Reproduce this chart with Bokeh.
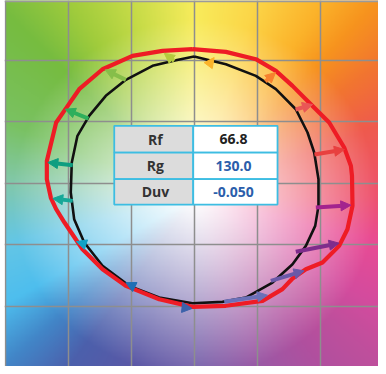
import numpy as np
from bokeh.plotting import figure
from bokeh.models import Arrow, NormalHead, Span, Range1d
from bokeh.core.properties import value
from bokeh.embed import file_html
from bokeh.resources import INLINE

# ---------------- data ----------------
bin_colors = ["#E8403F", "#E95656", "#F7812E", "#FBB32A", "#B5CB3E", "#86BE4A",
              "#2EAF5C", "#0E9E80", "#16A898", "#12A2C6", "#1E6FB5", "#3B62AA",
              "#6B70B8", "#6A58A8", "#7F2C8C", "#A3238E"]
# arrow starts (reference) and ends (test), hue bins 1..16
ref_x = [0.952, 0.802, 0.563, 0.117, -0.161, -0.545, -0.841, -0.966, -0.966, -0.865, -0.515, -0.095, 0.236, 0.606, 0.804, 0.963]
ref_y = [0.232, 0.598, 0.825, 0.966, 0.993, 0.839, 0.524, 0.145, -0.145, -0.500, -0.825, -1.012, -0.966, -0.795, -0.559, -0.199]
test_x = [1.190, 0.937, 0.643, 0.156, -0.240, -0.709, -1.026, -1.164, -1.125, -0.937, -0.545, -0.020, 0.579, 0.870, 1.148, 1.241]
test_y = [0.272, 0.638, 0.898, 1.020, 1.055, 0.920, 0.600, 0.167, -0.126, -0.476, -0.810, -1.020, -0.912, -0.714, -0.489, -0.180]

# test source gamut (red)
test_curve_x = [-0.016, 0.249, 0.487, 0.646, 0.778, 0.937, 1.069, 1.188, 1.241, 1.250, 1.254, 1.214,
                1.148, 1.016, 0.884, 0.778, 0.698, 0.540, 0.249, -0.016, -0.280, -0.545, -0.730,
                -0.889, -1.032, -1.098, -1.140, -1.172, -1.172, -1.098, -1.034, -0.915, -0.730,
                -0.492, -0.254]
test_curve_y = [1.088, 1.066, 1.007, 0.912, 0.790, 0.627, 0.492, 0.289, 0.140, 0.059, -0.186, -0.376,
                -0.511, -0.646, -0.701, -0.776, -0.863, -0.958, -0.998, -1.007, -0.945, -0.836,
                -0.701, -0.538, -0.321, -0.213, -0.120, 0.031, 0.180, 0.492, 0.587, 0.763, 0.925,
                1.034, 1.075]

# reference gamut (black)
ref_curve_x = [-0.003, 0.249, 0.487, 0.646, 0.804, 0.897, 0.950, 0.984, 0.984, 0.958, 0.884, 0.778,
               0.619, 0.407, 0.222, -0.016, -0.280, -0.518, -0.730, -0.875, -0.955, -0.982,
               -0.974, -0.929, -0.836, -0.704, -0.545, -0.333, -0.148]
ref_curve_y = [1.028, 0.966, 0.871, 0.763, 0.600, 0.411, 0.248, 0.031, -0.186, -0.348, -0.511, -0.660,
               -0.809, -0.931, -0.966, -0.977, -0.931, -0.836, -0.673, -0.484, -0.294, -0.077,
               0.167, 0.384, 0.546, 0.709, 0.839, 0.953, 0.998]

table_labels = ["Rf", "Rg", "Duv"]
table_values = ["66.8", "130.0", "-0.050"]
grid_ticks = [-1.5, -1.0, -0.5, 0.0, 0.5, 1.0, 1.5]

# ---------------- style / layout ----------------
X0 = -1.5 - 1 / 126
Y1 = 1.484
p = figure(width=378, height=366, output_backend="svg", toolbar_location=None,
           x_range=Range1d(X0, X0 + 374 / 126), y_range=Range1d(Y1 - 366 / 123, Y1),
           min_border_left=4, min_border_right=0, min_border_top=0, min_border_bottom=0)
p.xaxis.visible = False
p.yaxis.visible = False
p.outline_line_color = None
p.background_fill_color = "white"
p.border_fill_color = "white"

# background hue image (decorative)
anchor_ang = [0, 22, 37, 48, 57, 73, 90, 107, 122, 135, 158, 175, 194, 210, 222, 234, 250,
              270, 290, 306, 318, 329, 346, 360]
anchor_rgb = [(238, 84, 112), (239, 90, 78), (242, 118, 48), (247, 148, 30), (251, 178, 42),
              (252, 214, 72), (248, 236, 92), (200, 220, 72), (160, 204, 60), (118, 188, 64),
              (122, 194, 100), (130, 200, 170), (100, 198, 230), (78, 190, 238), (66, 134, 200),
              (76, 96, 172), (90, 88, 166), (116, 97, 170), (154, 90, 166), (176, 80, 159),
              (192, 79, 156), (212, 76, 158), (233, 75, 148), (238, 84, 112)]
N = 300
g = np.linspace(-1.5, 1.5, N)
GX, GY = np.meshgrid(g, g)
ang = np.degrees(np.arctan2(GY + 0.12, GX)) % 360
rad = np.hypot(GX, GY + 0.12)
t = np.clip(rad / 1.45, 0, 1) ** 1.15
img = np.empty((N, N), dtype=np.uint32)
view = img.view(dtype=np.uint8).reshape((N, N, 4))
for ch in range(3):
    hue = np.interp(ang, anchor_ang, [c[ch] for c in anchor_rgb])
    view[:, :, ch] = np.clip(255 * (1 - t) + hue * t, 0, 255).astype(np.uint8)
view[:, :, 3] = 255
p.image_rgba(image=[img], x=-1.5, y=-1.5, dw=3, dh=3, level="image")

# grid
p.xgrid.ticker = grid_ticks
p.ygrid.ticker = grid_ticks
for gr in (p.xgrid, p.ygrid):
    gr.grid_line_color = "#8E8E8E"
    gr.grid_line_width = 1.5
p.add_layout(Span(location=Y1 - 0.006, dimension="width", line_color="#9A9A9A", line_width=2))

# curves
p.line(ref_curve_x + ref_curve_x[:1], ref_curve_y + ref_curve_y[:1], line_color="#111111",
       line_width=2.6, line_join="round")
p.line(test_curve_x + test_curve_x[:1], test_curve_y + test_curve_y[:1], line_color="#EE1C25",
       line_width=4.2, line_join="round")

# arrows
for xs, ys, xe, ye, c in zip(ref_x, ref_y, test_x, test_y, bin_colors):
    p.add_layout(Arrow(end=NormalHead(size=10, fill_color=c, line_color=c, line_width=1),
                       x_start=xs, y_start=ys, x_end=xe, y_end=ye,
                       line_color=c, line_width=4))

# table
tbl_l, tbl_m, tbl_r = -0.637, -0.010, 0.659
row_edges = [0.465, 0.248, 0.031, -0.175]
tops = row_edges[:-1]
bots = row_edges[1:]
n = len(table_labels)
p.quad(left=[tbl_l] * n, right=[tbl_m] * n, top=tops, bottom=bots,
       fill_color="#DCDCDC", line_color="#3DBDE2", line_width=1.8)
p.quad(left=[tbl_m] * n, right=[tbl_r] * n, top=tops, bottom=bots,
       fill_color="#FFFFFF", line_color="#3DBDE2", line_width=1.8)
mids = [(a + b) / 2 for a, b in zip(tops, bots)]
p.text(x=[-0.31] * n, y=mids, text=table_labels, text_align="center", text_baseline="middle",
       text_font=value("Open Sans"), text_font_style="bold", text_font_size="14px",
       text_color="#333333")
p.text(x=[0.31] * n, y=mids, text=table_values, text_align="center", text_baseline="middle",
       text_font=value("Open Sans"), text_font_style="bold", text_font_size="14px",
       text_color=["#222222", "#2B5EAB", "#2B5EAB"])

open("out.html", "w").write(file_html(p, INLINE))
